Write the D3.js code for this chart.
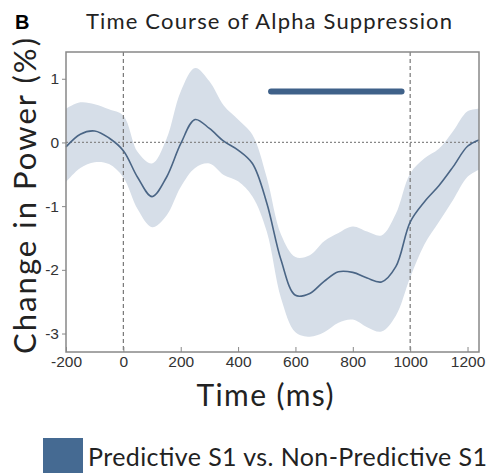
<!DOCTYPE html>
<html lang="en">

<head>
  <meta charset="UTF-8">
  <title>Time Course of Alpha Suppression</title>
  <script src="https://d3js.org/d3.v7.min.js"></script>
  <style>
    body {
      margin: 0;
      background: #ffffff;
      font-family: Lato, "Open Sans", sans-serif;
    }

    .tick text {
      font-size: 15.5px;
      fill: #333;
    }

    .tick line {
      stroke: #888;
    }
  </style>
</head>

<body>
  <svg width="489" height="473"></svg>
  <script>
    // time points (ms)
    const times = [-200, -150, -100, -50, 0, 50, 100, 150, 200, 250, 300, 350, 400, 450, 500,
      550, 600, 650, 700, 750, 800, 850, 900, 950, 1000, 1050, 1100, 1150, 1200, 1240];

    // mean change in power (%)
    const meanValues = [-0.07, 0.13, 0.18, 0.07, -0.13, -0.55, -0.85, -0.55, -0.02, 0.36, 0.22,
      0.02, -0.12, -0.33, -0.95, -1.85, -2.40, -2.37, -2.18, -2.03, -2.04, -2.13, -2.19, -1.95,
      -1.25, -0.93, -0.68, -0.38, -0.06, 0.04];

    // confidence band
    const upperValues = [0.53, 0.63, 0.60, 0.52, 0.42, -0.15, -0.33, 0.05, 0.80, 1.17, 0.96,
      0.58, 0.36, 0.12, -0.55, -1.45, -1.80, -1.77, -1.55, -1.42, -1.32, -1.40, -1.46, -1.12,
      -0.49, -0.25, -0.10, 0.18, 0.49, 0.53];
    const lowerValues = [-0.62, -0.40, -0.31, -0.34, -0.55, -1.05, -1.33, -1.15, -0.70, -0.40,
      -0.33, -0.51, -0.61, -0.85, -1.40, -2.45, -2.98, -3.05, -2.98, -2.83, -2.78, -2.90, -2.97,
      -2.72, -2.12, -1.60, -1.25, -0.90, -0.54, -0.43];

    // significant window
    const sigWindow = [515, 970];
    const sigLevel = 0.8;

    const xTicks = [-200, 0, 200, 400, 600, 800, 1000, 1200];
    const yTicks = [-3, -2, -1, 0, 1];
    const markers = [0, 1000];
    const legendLabel = "Predictive S1 vs. Non-Predictive S1";

    const svg = d3.select("svg");
    const margin = { top: 52, right: 10, bottom: 121, left: 66 };
    const width = 489 - margin.left - margin.right,
      height = 473 - margin.top - margin.bottom;

    const x = d3.scaleLinear().domain([-200, 1240]).range([0, width]);
    const y = d3.scaleLinear().domain([-3.29, 1.42]).range([height, 0]);

    const g = svg.append("g").attr("transform", `translate(${margin.left},${margin.top})`);

    const rows = times.map((t, i) => ({ t: t, m: meanValues[i], hi: upperValues[i], lo: lowerValues[i] }));

    // band
    g.append("path")
      .datum(rows)
      .attr("fill", "#d6dee8")
      .attr("d", d3.area().curve(d3.curveCatmullRom)
        .x(d => x(d.t)).y0(d => y(d.lo)).y1(d => y(d.hi)));

    // zero line
    g.append("line")
      .attr("x1", 0).attr("x2", width)
      .attr("y1", y(0)).attr("y2", y(0))
      .attr("stroke", "#888").attr("stroke-width", 1.2)
      .attr("stroke-dasharray", "2,2");

    // event markers
    g.selectAll(".marker")
      .data(markers)
      .enter()
      .append("line")
      .attr("class", "marker")
      .attr("x1", d => x(d)).attr("x2", d => x(d))
      .attr("y1", 0).attr("y2", height)
      .attr("stroke", "#777").attr("stroke-width", 1.2)
      .attr("stroke-dasharray", "4,3");

    // mean line
    g.append("path")
      .datum(rows)
      .attr("fill", "none")
      .attr("stroke", "#4a6585")
      .attr("stroke-width", 1.6)
      .attr("d", d3.line().curve(d3.curveCatmullRom).x(d => x(d.t)).y(d => y(d.m)));

    // significance bar
    g.append("line")
      .attr("x1", x(sigWindow[0])).attr("x2", x(sigWindow[1]))
      .attr("y1", y(sigLevel)).attr("y2", y(sigLevel))
      .attr("stroke", "#3f6189").attr("stroke-width", 6)
      .attr("stroke-linecap", "round");

    // frame
    g.append("rect")
      .attr("width", width).attr("height", height)
      .attr("fill", "none").attr("stroke", "#888").attr("stroke-width", 1.5);

    // axes (plain hyphen for negatives)
    const fmt = d => String(d);

    g.append("g")
      .attr("transform", `translate(0,${height})`)
      .call(d3.axisBottom(x).tickValues(xTicks).tickFormat(fmt).tickSize(-5).tickPadding(4))
      .call(a => a.select(".domain").remove());

    g.append("g")
      .call(d3.axisLeft(y).tickValues(yTicks).tickFormat(fmt).tickSize(4).tickPadding(3))
      .call(a => a.select(".domain").remove());

    // titles (the original face is wider than Lato, so stretch the spacing)
    svg.append("text")
      .attr("x", 15).attr("y", 29)
      .attr("font-size", 20).attr("font-weight", "bold")
      .attr("font-family", "Liberation Sans, Arial, sans-serif")
      .text("B");

    svg.append("text")
      .attr("x", 269).attr("y", 29)
      .attr("text-anchor", "middle")
      .attr("font-size", 22).attr("fill", "#222")
      .attr("textLength", 366).attr("lengthAdjust", "spacing")
      .text("Time Course of Alpha Suppression");

    svg.append("text")
      .attr("transform", "translate(36,196) rotate(-90)")
      .attr("text-anchor", "middle")
      .attr("font-size", 31).attr("fill", "#222")
      .attr("textLength", 316).attr("lengthAdjust", "spacing")
      .text("Change in Power (%)");

    svg.append("text")
      .attr("x", 265).attr("y", 406)
      .attr("text-anchor", "middle")
      .attr("font-size", 30).attr("fill", "#222")
      .attr("textLength", 137).attr("lengthAdjust", "spacing")
      .text("Time (ms)");

    // legend
    svg.append("rect")
      .attr("x", 43).attr("y", 438)
      .attr("width", 40).attr("height", 40)
      .attr("fill", "#456a92");

    svg.append("text")
      .attr("x", 88).attr("y", 466)
      .attr("font-size", 25).attr("fill", "#222")
      .attr("textLength", 399).attr("lengthAdjust", "spacing")
      .text(legendLabel);
  </script>
</body>

</html>
